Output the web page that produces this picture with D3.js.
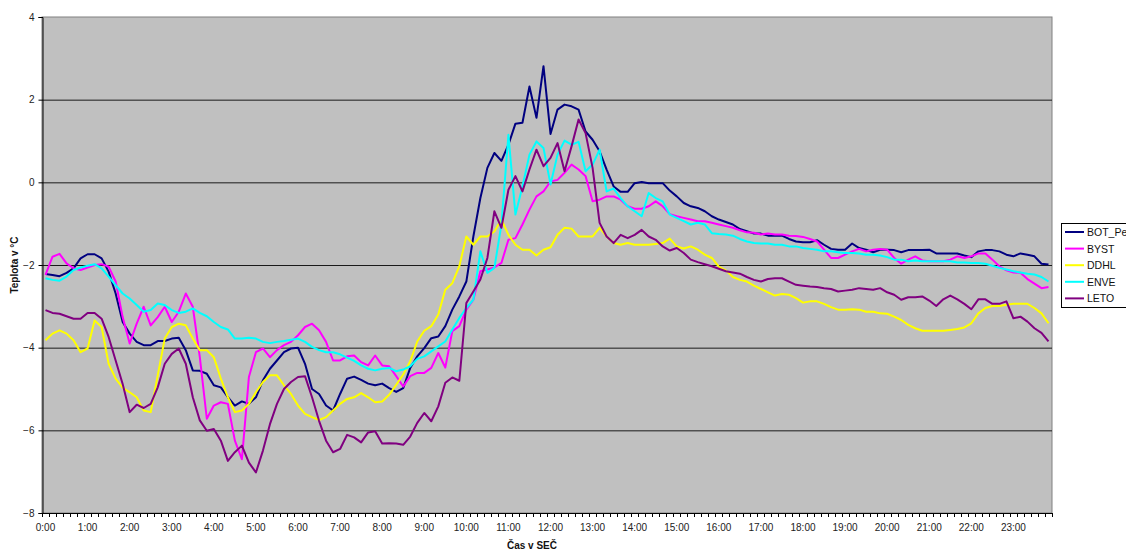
<!DOCTYPE html>
<html>
<head>
<meta charset="utf-8">
<script src="https://cdn.jsdelivr.net/npm/d3@7"></script>
<style>
  body { margin: 0; background: #fff; }
  text { font-family: Arial, "Liberation Sans", sans-serif; }
</style>
</head>
<body>
<svg id="canvas" width="1126" height="551"></svg>
<script>
// hourly tick labels, categories are 10 minute steps
let hourLabels = d3.range(24).map(h => h + ':00')
let times = d3.range(144).map(i => Math.floor(i / 6) + ':' + String((i % 6) * 10).padStart(2, '0'))

let botPe = [-2.22,-2.24,-2.27,-2.19,-2.08,-1.84,-1.74,-1.74,-1.84,-2.16,-2.69,-3.38,-3.66,-3.86,-3.94,-3.94,-3.84,-3.84,-3.78,-3.76,-4.06,-4.55,-4.56,-4.63,-4.91,
  -4.96,-5.20,-5.40,-5.30,-5.36,-5.20,-4.79,-4.51,-4.31,-4.11,-4.02,-4.00,-4.39,-5.00,-5.12,-5.40,-5.52,-5.12,-4.75,-4.70,-4.78,-4.87,-4.91,-4.87,
  -4.98,-5.07,-4.98,-4.49,-4.21,-4.01,-3.77,-3.73,-3.48,-3.08,-2.76,-2.40,-1.31,-0.38,0.35,0.71,0.52,0.91,1.42,1.44,2.32,1.56,2.81,1.17,
  1.76,1.88,1.84,1.76,1.23,1.03,0.75,0.31,-0.10,-0.23,-0.23,-0.02,0.01,-0.02,-0.02,-0.02,-0.20,-0.34,-0.50,-0.58,-0.62,-0.70,-0.82,-0.90,-0.96,
  -1.02,-1.13,-1.18,-1.24,-1.24,-1.29,-1.29,-1.29,-1.37,-1.43,-1.45,-1.45,-1.40,-1.51,-1.61,-1.63,-1.63,-1.48,-1.59,-1.63,-1.69,-1.63,
  -1.63,-1.64,-1.69,-1.64,-1.64,-1.64,-1.63,-1.72,-1.72,-1.72,-1.72,-1.77,-1.81,-1.67,-1.64,-1.64,-1.67,-1.75,-1.79,-1.72,-1.75,-1.79,-1.97,-1.99]

let byst = [-2.24,-1.80,-1.73,-1.96,-2.08,-2.12,-2.06,-2.00,-1.98,-2.04,-2.40,-3.26,-3.90,-3.42,-3.01,-3.46,-3.26,-3.01,-3.38,-3.13,-2.69,-3.01,-4.23,-5.72,-5.40,
  -5.32,-5.36,-6.25,-6.70,-4.71,-4.11,-4.02,-4.23,-4.06,-3.94,-3.86,-3.70,-3.50,-3.42,-3.58,-3.86,-4.31,-4.31,-4.21,-4.19,-4.35,-4.43,-4.19,-4.43,
  -4.45,-4.69,-4.94,-4.69,-4.61,-4.61,-4.49,-4.13,-4.48,-3.60,-3.48,-3.08,-2.84,-2.15,-2.11,-2.06,-1.95,-1.39,-1.35,-1.02,-0.66,-0.34,-0.22,0.02,
  0.06,0.23,0.43,0.31,0.15,-0.46,-0.42,-0.34,-0.34,-0.42,-0.58,-0.64,-0.64,-0.58,-0.46,-0.58,-0.77,-0.82,-0.86,-0.90,-0.94,-0.94,-0.98,-1.02,-1.06,
  -1.10,-1.16,-1.21,-1.22,-1.26,-1.24,-1.26,-1.26,-1.29,-1.30,-1.32,-1.37,-1.43,-1.63,-1.83,-1.83,-1.75,-1.67,-1.61,-1.67,-1.63,-1.61,
  -1.63,-1.83,-1.97,-1.87,-1.79,-1.89,-1.91,-1.91,-1.91,-1.87,-1.79,-1.83,-1.79,-1.72,-1.72,-1.87,-2.03,-2.13,-2.18,-2.19,-2.34,-2.45,-2.56,-2.53]

let ddhl = [-3.82,-3.66,-3.58,-3.66,-3.82,-4.11,-4.02,-3.34,-3.50,-4.39,-4.75,-4.97,-5.08,-5.20,-5.52,-5.56,-4.67,-3.78,-3.50,-3.42,-3.46,-3.78,-4.06,-4.06,-4.23,
  -4.75,-5.20,-5.56,-5.52,-5.36,-5.08,-4.83,-4.67,-4.67,-4.91,-5.12,-5.40,-5.60,-5.68,-5.75,-5.68,-5.52,-5.36,-5.24,-5.20,-5.10,-5.20,-5.32,-5.30,
  -5.14,-4.90,-4.65,-4.33,-3.85,-3.59,-3.48,-3.20,-2.60,-2.44,-2.03,-1.31,-1.51,-1.31,-1.31,-1.19,-0.90,-1.27,-1.51,-1.63,-1.63,-1.77,-1.63,-1.57,
  -1.27,-1.10,-1.12,-1.31,-1.31,-1.31,-1.10,-1.31,-1.47,-1.51,-1.47,-1.51,-1.51,-1.51,-1.49,-1.47,-1.36,-1.55,-1.60,-1.55,-1.63,-1.75,-1.83,-2.04,-2.13,
  -2.29,-2.36,-2.40,-2.50,-2.58,-2.66,-2.74,-2.70,-2.72,-2.80,-2.91,-2.88,-2.88,-2.94,-3.02,-3.08,-3.08,-3.07,-3.08,-3.13,-3.13,-3.17,
  -3.18,-3.25,-3.33,-3.45,-3.53,-3.59,-3.59,-3.59,-3.59,-3.57,-3.55,-3.51,-3.41,-3.17,-3.04,-2.99,-2.99,-2.96,-2.94,-2.94,-2.94,-3.04,-3.17,-3.41]

let enve = [-2.32,-2.36,-2.38,-2.28,-2.12,-2.06,-2.02,-1.98,-2.08,-2.28,-2.49,-2.69,-2.81,-2.97,-3.13,-3.09,-2.93,-2.97,-3.09,-3.16,-3.13,-3.05,-3.16,-3.24,-3.38,
  -3.50,-3.56,-3.78,-3.78,-3.76,-3.78,-3.86,-3.89,-3.86,-3.84,-3.81,-3.78,-3.86,-3.98,-4.06,-4.11,-4.11,-4.16,-4.24,-4.32,-4.43,-4.51,-4.55,-4.51,
  -4.49,-4.57,-4.53,-4.45,-4.27,-4.21,-4.09,-3.97,-3.85,-3.56,-3.28,-3.04,-2.84,-1.67,-2.19,-2.07,-1.02,1.15,-0.78,-0.10,0.67,0.99,0.83,-0.05,
  0.67,1.01,0.91,0.98,0.27,0.43,0.79,-0.22,-0.15,-0.38,-0.58,-0.70,-0.82,-0.26,-0.38,-0.46,-0.78,-0.86,-0.94,-1.02,-0.98,-1.02,-1.23,-1.25,-1.26,
  -1.29,-1.37,-1.43,-1.47,-1.48,-1.48,-1.51,-1.51,-1.55,-1.55,-1.59,-1.61,-1.63,-1.67,-1.67,-1.69,-1.71,-1.71,-1.72,-1.75,-1.75,-1.77,
  -1.81,-1.87,-1.87,-1.91,-1.89,-1.91,-1.91,-1.91,-1.91,-1.91,-1.94,-1.94,-1.95,-1.95,-1.97,-2.02,-2.07,-2.11,-2.15,-2.18,-2.21,-2.23,-2.29,-2.40]

let leto = [-3.09,-3.16,-3.18,-3.24,-3.30,-3.30,-3.16,-3.16,-3.30,-3.74,-4.31,-4.88,-5.56,-5.38,-5.46,-5.36,-4.96,-4.39,-4.15,-4.02,-4.39,-5.20,-5.76,-6.01,-5.97,
  -6.25,-6.74,-6.53,-6.37,-6.78,-7.02,-6.49,-5.85,-5.36,-5.00,-4.83,-4.71,-4.69,-5.20,-5.77,-6.25,-6.53,-6.45,-6.11,-6.17,-6.29,-6.05,-6.02,-6.32,
  -6.31,-6.32,-6.35,-6.15,-5.82,-5.58,-5.78,-5.42,-4.85,-4.72,-4.80,-2.92,-2.64,-2.35,-1.83,-0.70,-1.10,-0.18,0.15,-0.22,0.31,0.79,0.39,0.59,
  0.95,0.27,0.87,1.52,1.19,0.35,-0.98,-1.31,-1.47,-1.27,-1.35,-1.27,-1.15,-1.31,-1.39,-1.55,-1.65,-1.59,-1.71,-1.87,-1.93,-1.98,-2.03,-2.09,-2.15,
  -2.18,-2.21,-2.29,-2.36,-2.40,-2.34,-2.32,-2.32,-2.40,-2.48,-2.50,-2.52,-2.53,-2.56,-2.58,-2.64,-2.62,-2.60,-2.56,-2.58,-2.60,-2.56,
  -2.66,-2.72,-2.84,-2.78,-2.78,-2.76,-2.86,-2.99,-2.83,-2.74,-2.83,-2.94,-3.07,-2.83,-2.83,-2.94,-2.94,-2.88,-3.29,-3.25,-3.37,-3.53,-3.64,-3.85]

let seriesNames = ['BOT_Pe', 'BYST', 'DDHL', 'ENVE', 'LETO']
let seriesColors = ['#000080', '#ff00ff', '#ffff00', '#00ffff', '#800080']
let yTicks = [-8, -6, -4, -2, 0, 2, 4]

let series = [botPe, byst, ddhl, enve, leto].map((vals, i) => {
    return {name: seriesNames[i], color: seriesColors[i], values: vals}
})

let canvas = d3.select('#canvas')
let plot = {left: 42, right: 1052, top: 17, bottom: 513}

let xScale = d3.scalePoint()
    .domain(times)
    .range([plot.left, plot.right])
    .padding(0.5)
let step = xScale.step()

let yScale = d3.scaleLinear()
    .domain([-8, 4])
    .range([plot.bottom, plot.top])

// plot area
canvas.append('rect')
    .attr('x', plot.left)
    .attr('y', plot.top)
    .attr('width', plot.right - plot.left)
    .attr('height', plot.bottom - plot.top)
    .attr('fill', '#c0c0c0')
    .attr('stroke', '#808080')
    .attr('stroke-width', 1)

// gridlines
canvas.append('g')
    .selectAll('line')
    .data(yTicks.filter(t => t > -8 && t < 4))
    .enter()
    .append('line')
    .attr('x1', plot.left)
    .attr('x2', plot.right)
    .attr('y1', d => yScale(d) + 0.5)
    .attr('y2', d => yScale(d) + 0.5)
    .attr('stroke', '#1a1a1a')
    .attr('stroke-width', 1)

// y axis
let yAxis = d3.axisLeft(yScale)
    .tickValues(yTicks)
    .tickSize(4)
    .tickPadding(4)
let yG = canvas.append('g')
    .attr('transform', 'translate(' + (plot.left + 0.5) + ',0)')
    .call(yAxis)
yG.select('.domain').attr('stroke', '#000')
yG.selectAll('.tick line').attr('stroke', '#000')
yG.selectAll('text')
    .attr('font-size', 10)
    .attr('fill', '#222')
    .attr('font-family', 'Arial, "Liberation Sans", sans-serif')

// x axis: tick at every category boundary, label every hour
let boundaries = times.map(t => xScale(t) - step / 2).concat([plot.right])
let xG = canvas.append('g')
xG.append('line')
    .attr('x1', plot.left)
    .attr('x2', plot.right)
    .attr('y1', plot.bottom + 0.5)
    .attr('y2', plot.bottom + 0.5)
    .attr('stroke', '#000')
xG.selectAll('line.tk')
    .data(boundaries)
    .enter()
    .append('line')
    .attr('class', 'tk')
    .attr('x1', d => Math.round(d) + 0.5)
    .attr('x2', d => Math.round(d) + 0.5)
    .attr('y1', plot.bottom)
    .attr('y2', plot.bottom + 4)
    .attr('stroke', '#000')
xG.selectAll('text')
    .data(hourLabels)
    .enter()
    .append('text')
    .attr('x', (d, i) => xScale(times[i * 6]))
    .attr('y', 531)
    .attr('text-anchor', 'middle')
    .attr('font-size', 10)
    .attr('fill', '#222')
    .text(d => d)

// axis titles
canvas.append('text')
    .attr('x', 532)
    .attr('y', 549)
    .attr('text-anchor', 'middle')
    .attr('font-size', 10)
    .attr('font-weight', 'bold')
    .attr('fill', '#111')
    .text('Čas v SEČ')

canvas.append('text')
    .attr('transform', 'translate(18,' + ((plot.top + plot.bottom) / 2) + ') rotate(-90)')
    .attr('text-anchor', 'middle')
    .attr('font-size', 10)
    .attr('font-weight', 'bold')
    .attr('fill', '#111')
    .text('Teplota v °C')

// lines
let line = d3.line()
    .x((d, i) => xScale(times[i]))
    .y(d => yScale(d))

canvas.append('g')
    .selectAll('path')
    .data(series)
    .enter()
    .append('path')
    .attr('d', d => line(d.values))
    .attr('fill', 'none')
    .attr('stroke', d => d.color)
    .attr('stroke-width', 2)
    .attr('stroke-linejoin', 'round')

// legend
let legend = canvas.append('g')
    .attr('transform', 'translate(1061,223)')
legend.append('rect')
    .attr('x', 0.5)
    .attr('y', 0.5)
    .attr('width', 72)
    .attr('height', 84)
    .attr('fill', '#fff')
    .attr('stroke', '#000')
let entry = legend.selectAll('g.entry')
    .data(series)
    .enter()
    .append('g')
    .attr('class', 'entry')
    .attr('transform', (d, i) => 'translate(0,' + (9 + i * 16.6) + ')')
entry.append('line')
    .attr('x1', 4)
    .attr('x2', 23)
    .attr('y1', 0)
    .attr('y2', 0)
    .attr('stroke', d => d.color)
    .attr('stroke-width', 2)
entry.append('text')
    .attr('x', 26)
    .attr('y', 4)
    .attr('font-size', 10.5)
    .attr('fill', '#111')
    .text(d => d.name)
</script>
</body>
</html>
